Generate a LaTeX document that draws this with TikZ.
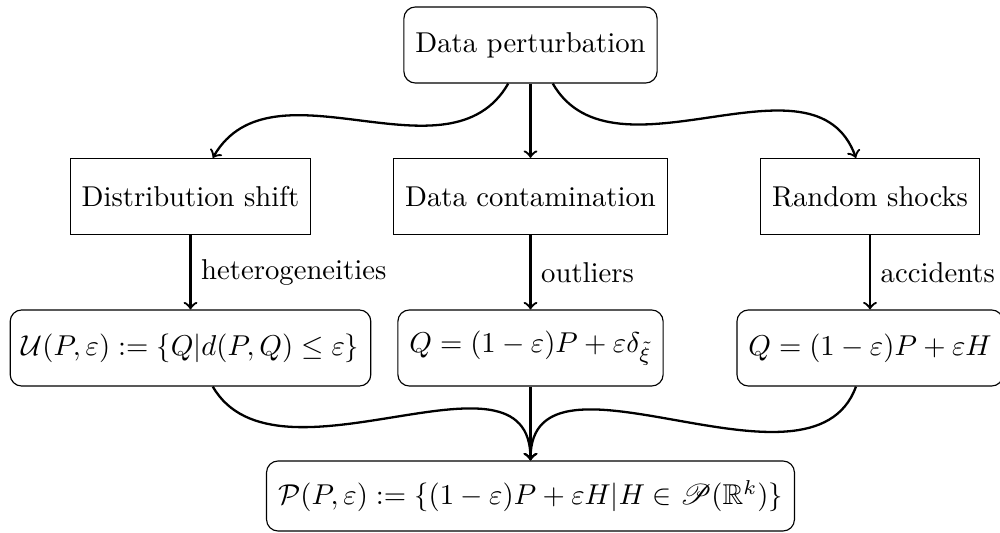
\documentclass[tikz,border=0pt]{standalone}
\usepackage{amssymb,mathrsfs}
\begin{document}
\begin{tikzpicture}[x=0.34843pt,y=0.34843pt,
  plainbox/.style={draw, thin, minimum height=26.5pt, inner xsep=4pt},
  roundbox/.style={plainbox, rounded corners=4pt},
  arr/.style={->, thick}]
\useasboundingbox (0,0) rectangle (1000,-533);
\node[roundbox] (top) at (530.5,-45) {Data perturbation};
\node[plainbox] (dist) at (190.5,-196.5) {Distribution shift};
\node[plainbox] (cont) at (530.5,-196.5) {Data contamination};
\node[plainbox] (rand) at (870,-196.5) {Random shocks};
\node[roundbox] (u) at (190.5,-348) {$\mathcal{U}(P,\varepsilon) := \{Q|d(P,Q)\leq\varepsilon\}$};
\node[roundbox] (q1) at (530.5,-348) {$Q=(1-\varepsilon)P+\varepsilon\delta_{\tilde{\xi}}$};
\node[roundbox] (q2) at (870,-348) {$Q=(1-\varepsilon)P+\varepsilon H$};
\node[roundbox, minimum height=24.4pt] (p) at (530.5,-496) {$\mathcal{P}(P,\varepsilon) := \{(1-\varepsilon)P+\varepsilon H|H\in\mathscr{P}(\mathbb{R}^k)\}$};
\draw[arr] (top) to[out=-120,in=60] (dist);
\draw[arr] (top) -- (cont);
\draw[arr] (top) to[out=-60,in=110] (rand);
\draw[arr] (dist) -- node[midway,right] {heterogeneities} (u);
\draw[arr] (cont) -- node[midway,right] {outliers} (q1);
\draw[arr] (rand) -- node[midway,right] {accidents} (q2);
\draw[arr] (u) to[out=-60,in=90] (p);
\draw[arr] (q1) -- (p);
\draw[arr] (q2) to[out=-110,in=90] (p);
\end{tikzpicture}
\end{document}
